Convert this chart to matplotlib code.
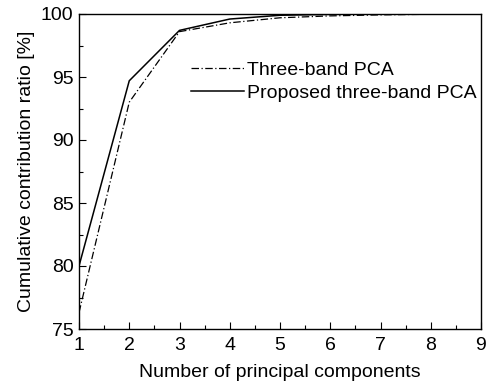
import matplotlib
matplotlib.use("Agg")
import matplotlib.pyplot as plt
from matplotlib.ticker import MultipleLocator

plt.rcParams['font.family'] = ['Liberation Sans', 'DejaVu Sans']

components = [1, 2, 3, 4, 5, 6, 7, 8, 9]
three_band = [76.3, 93.0, 98.6, 99.3, 99.7, 99.85, 99.93, 99.98, 100.0]
proposed = [80.0, 94.7, 98.7, 99.6, 99.9, 99.97, 99.99, 100.0, 100.0]

fig = plt.figure(figsize=(4.89, 3.91), dpi=100)
ax = fig.add_axes([79 / 489, 1 - 329 / 391, (481 - 79) / 489, (329 - 14) / 391])

ax.plot(components, three_band, color='black', lw=0.9, ls=(0, (6, 2, 1, 2)),
        label='Three-band PCA')
ax.plot(components, proposed, color='black', lw=1.1, ls='-',
        label='Proposed three-band PCA')

ax.set_xlim(1, 9)
ax.set_ylim(75, 100)
ax.xaxis.set_major_locator(MultipleLocator(1))
ax.xaxis.set_minor_locator(MultipleLocator(0.5))
ax.yaxis.set_major_locator(MultipleLocator(5))
ax.yaxis.set_minor_locator(MultipleLocator(2.5))
ax.tick_params(which='both', direction='in', labelsize=14, width=0.8)
ax.tick_params(which='major', length=5, pad=4)
ax.tick_params(axis='x', which='major', pad=6)
ax.tick_params(which='minor', length=3)
for s in ax.spines.values():
    s.set_linewidth(1.0)

ax.set_xlabel('Number of principal components', fontsize=14, labelpad=7)
ax.set_ylabel('Cumulative contribution ratio [%]', fontsize=14, labelpad=4)

ax.legend(loc='upper left', bbox_to_anchor=(0.26, 0.875), frameon=False,
          fontsize=14, handlelength=2.7, handletextpad=0.15,
          labelspacing=0.3, borderaxespad=0)

fig.savefig('out.png', dpi=100)
